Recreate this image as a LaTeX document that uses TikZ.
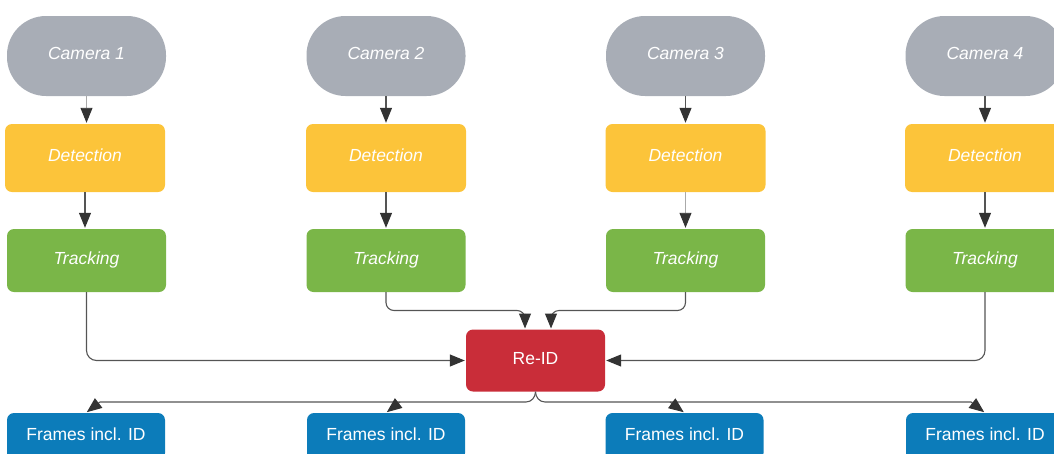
\documentclass[tikz,border=0pt]{standalone}
\usepackage{fontspec}
\setmainfont{Liberation Sans}
\usetikzlibrary{arrows.meta,calc}
\definecolor{camgray}{HTML}{A8ADB6}
\definecolor{detyellow}{HTML}{FCC43A}
\definecolor{trkgreen}{HTML}{7AB648}
\definecolor{reidred}{HTML}{C92D39}
\definecolor{frmblue}{HTML}{0C7CBA}
\definecolor{linegray}{HTML}{555555}
\definecolor{lightline}{HTML}{AAAAAA}
\definecolor{tipgray}{HTML}{333333}
\tikzset{
  base/.style={draw=none, text=white, font=\fontsize{17.5}{20}\selectfont, inner sep=0pt, text height=12.5pt, text depth=5pt},
  cambox/.style={base, fill=camgray, minimum width=159pt, minimum height=80pt, rounded corners=39pt, font=\fontsize{17.5}{20}\selectfont\itshape},
  detbox/.style={base, fill=detyellow, minimum width=160pt, minimum height=68pt, rounded corners=7pt, font=\fontsize{17.5}{20}\selectfont\itshape},
  trkbox/.style={base, fill=trkgreen, minimum width=159pt, minimum height=63pt, rounded corners=7pt, font=\fontsize{17.5}{20}\selectfont\itshape},
  reidbox/.style={base, fill=reidred, minimum width=139pt, minimum height=62pt, rounded corners=7pt},
  frmbox/.style={base, fill=frmblue, minimum width=158pt, minimum height=47pt, rounded corners=7pt},
  tip/.style={-{Triangle[length=15pt,width=12pt,fill=tipgray,color=tipgray]}, shorten >=1pt},
  conn/.style={draw=linegray, line width=1.1pt, tip},
  lightconn/.style={draw=lightline, line width=0.9pt, tip},
  plain/.style={draw=linegray, line width=1.1pt},
}
\begin{document}
\begin{tikzpicture}[x=1pt,y=-1pt]
\useasboundingbox (0,0) rectangle (1054,453);
% cameras
\node[cambox] (c1) at (86.5,56) {Camera 1};
\node[cambox] (c2) at (386,56) {Camera 2};
\node[cambox] (c3) at (685.5,56) {Camera 3};
\node[cambox] (c4) at (985,56) {Camera 4};
% detection
\node[detbox] (d1) at (85,158) {Detection};
\node[detbox] (d2) at (386,158) {Detection};
\node[detbox] (d3) at (685.5,158) {Detection};
\node[detbox] (d4) at (985,158) {Detection};
% tracking
\node[trkbox] (t1) at (86.5,260.5) {Tracking};
\node[trkbox] (t2) at (386,260.5) {Tracking};
\node[trkbox] (t3) at (685.5,260.5) {Tracking};
\node[trkbox] (t4) at (985,260.5) {Tracking};
% reid
\node[reidbox] (r) at (535.5,360.5) {Re-ID};
% frames
\node[frmbox] (f1) at (86,436.5) {Frames incl. ID};
\node[frmbox] (f2) at (386,436.5) {Frames incl. ID};
\node[frmbox] (f3) at (684.5,436.5) {Frames incl. ID};
\node[frmbox] (f4) at (985,436.5) {Frames incl. ID};
% helper coordinates
\coordinate (rin2) at (525,329.5);
\coordinate (rin3) at (551,329.5);
\coordinate (bl) at (526,402);
\coordinate (br) at (545,402);
\coordinate (b1) at (100,402);
\coordinate (b2) at (400,402);
\coordinate (b3) at (670,402);
\coordinate (b4) at (971,402);
% vertical arrows
\draw[lightconn] (c1.south) -- (c1.south |- d1.north);
\draw[conn] (c2.south) -- (c2.south |- d2.north);
\draw[conn] (c3.south) -- (c3.south |- d3.north);
\draw[conn] (c4.south) -- (c4.south |- d4.north);
\draw[conn] (d1.south) -- (d1.south |- t1.north);
\draw[conn] (d2.south) -- (d2.south |- t2.north);
\draw[lightconn] (d3.south) -- (d3.south |- t3.north);
\draw[conn] (d4.south) -- (d4.south |- t4.north);
% tracking to reid
\draw[conn, rounded corners=10pt] (t1.south) |- (r.west);
\draw[conn, rounded corners=10pt] (t4.south) |- (r.east);
\draw[conn, rounded corners=8pt] (t2.south) |- ($(rin2)+(0,-19)$) -- (rin2);
\draw[conn, rounded corners=8pt] (t3.south) |- ($(rin3)+(0,-19)$) -- (rin3);
% reid to frames
\draw[plain] (r.south) to[out=-90,in=0] (bl) -- (b2);
\draw[plain] (r.south) to[out=-90,in=180] (br) -- (b3);
\draw[conn] (b2) -- (b1) -- (f1.north);
\draw[conn] (b2) -- (f2.north);
\draw[conn] (b3) -- (b4) -- (f4.north);
\draw[conn] (b3) -- (f3.north);
\end{tikzpicture}
\end{document}
